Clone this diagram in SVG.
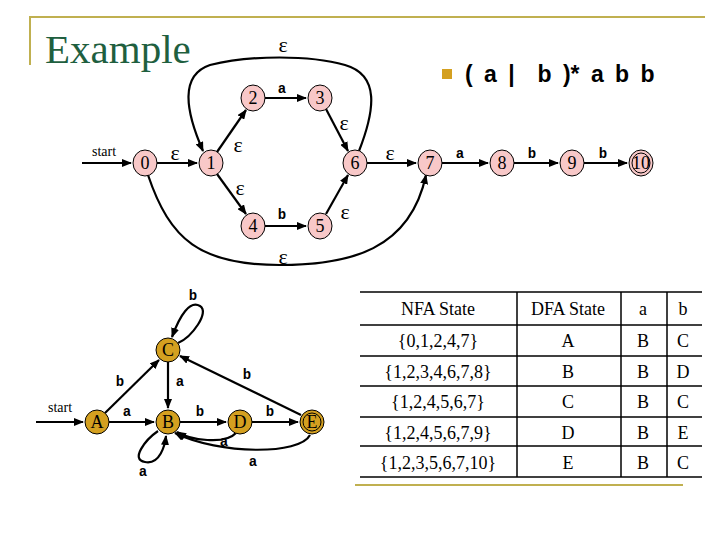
<svg xmlns="http://www.w3.org/2000/svg" width="720" height="540" viewBox="0 0 720 540">
<defs>
<marker id="ar" markerWidth="10" markerHeight="8" refX="9" refY="4" orient="auto" markerUnits="userSpaceOnUse"><path d="M0,0 L10,4 L0,8 z" fill="#000"/></marker>
<style>
.e{fill:none;stroke:#000;stroke-width:2.2;marker-end:url(#ar)}
.n{fill:#f8c8c8;stroke:#000;stroke-width:1}
.d{fill:#d4a020;stroke:#000;stroke-width:1}
.t{font-family:"Liberation Serif",serif;font-size:18px;text-anchor:middle}
.m{font-family:"Liberation Mono",monospace;font-weight:bold;font-size:14px;text-anchor:middle}
.ep{font-family:"Liberation Serif",serif;font-size:22px;text-anchor:middle}
.tb{font-family:"Liberation Serif",serif;font-size:18px;text-anchor:middle}
.l{stroke:#000;stroke-width:1.5}
</style>
</defs>
<rect width="720" height="540" fill="#fff"/>
<path d="M30,65 V17 H705" fill="none" stroke="#c0b050" stroke-width="2"/>
<text x="45" y="63" font-family="Liberation Serif,serif" font-size="41" fill="#1f5f3f">Example</text>
<rect x="442" y="69" width="10" height="10" fill="#d4a020"/>
<text x="465" y="82" font-family="Liberation Sans,sans-serif" font-weight="bold" font-size="23" word-spacing="5" xml:space="preserve">( a |  b )* a b b</text>
<g id="connectors">
<path class="e" d="M82,163 H131"/>
<path class="e" d="M157,163 H197"/>
<path class="e" d="M217,152 L246,110"/>
<path class="e" d="M217,174 L246,214"/>
<path class="e" d="M265,98 H306"/>
<path class="e" d="M326,109 L348,151"/>
<path class="e" d="M265,226 H306"/>
<path class="e" d="M326,214 L348,175"/>
<path class="e" d="M367,163 H416"/>
<path class="e" d="M442,163 H488"/>
<path class="e" d="M514,163 H558"/>
<path class="e" d="M584,163 H627"/>
<path class="e" d="M359,151 C375,110 380,75 345,65 C310,55 250,55 210,65 C180,75 185,110 203,151"/>
<path class="e" d="M148,175 C170,240 200,265 280,265 C350,265 410,250 426,175"/>
<path class="e" d="M36,422 H83"/>
<path class="e" d="M105,413 L159,360"/>
<path class="e" d="M109,422 H154"/>
<path class="e" d="M168,362 V408"/>
<path class="e" d="M180,422 H226"/>
<path class="e" d="M252,422 H298"/>
<path class="e" d="M301,415 L180,356"/>
<path class="e" d="M178,343 C192,337 210,312 200,306 C190,300 180,315 172,337"/>
<path class="e" d="M236,433 C225,445 190,440 177,432"/>
<path class="e" d="M310,435 C300,455 220,455 175,433"/>
<path class="e" d="M158,431 C145,440 130,460 145,462 C160,465 165,445 166,436"/>
</g>
<g id="labels">
<text class="ep" x="175" y="160">ε</text>
<text class="ep" x="238" y="152">ε</text>
<text class="ep" x="240" y="195">ε</text>
<text class="m" x="282" y="93">a</text>
<text class="ep" x="344" y="130">ε</text>
<text class="m" x="282" y="219">b</text>
<text class="ep" x="345" y="219">ε</text>
<text class="ep" x="390" y="160">ε</text>
<text class="m" x="460" y="158">a</text>
<text class="m" x="532" y="158">b</text>
<text class="m" x="603" y="158">b</text>
<text class="ep" x="283" y="52">ε</text>
<text class="ep" x="283" y="264">ε</text>
<text x="104" y="156" font-family="Liberation Serif,serif" font-size="14" text-anchor="middle">start</text>
<text x="60" y="412" font-family="Liberation Serif,serif" font-size="14" text-anchor="middle">start</text>
<text class="m" x="193" y="300">b</text>
<text class="m" x="120" y="386">b</text>
<text class="m" x="180" y="386">a</text>
<text class="m" x="247" y="379">b</text>
<text class="m" x="127" y="416">a</text>
<text class="m" x="200" y="416">b</text>
<text class="m" x="270" y="416">b</text>
<text class="m" x="224" y="446">a</text>
<text class="m" x="253" y="466">a</text>
<text class="m" x="143" y="476">a</text>
</g>
<g id="n0"><ellipse class="n" cx="145" cy="163" rx="12" ry="13"/><text class="t" x="145" y="169">0</text></g>
<g id="n1"><ellipse class="n" cx="211" cy="163" rx="12" ry="13"/><text class="t" x="211" y="169">1</text></g>
<g id="n2"><ellipse class="n" cx="253" cy="98" rx="12" ry="13"/><text class="t" x="253" y="104">2</text></g>
<g id="n3"><ellipse class="n" cx="320" cy="98" rx="12" ry="13"/><text class="t" x="320" y="104">3</text></g>
<g id="n4"><ellipse class="n" cx="253" cy="226" rx="12" ry="13"/><text class="t" x="253" y="232">4</text></g>
<g id="n5"><ellipse class="n" cx="320" cy="226" rx="12" ry="13"/><text class="t" x="320" y="232">5</text></g>
<g id="n6"><ellipse class="n" cx="355" cy="163" rx="12" ry="13"/><text class="t" x="355" y="169">6</text></g>
<g id="n7"><ellipse class="n" cx="430" cy="163" rx="12" ry="13"/><text class="t" x="430" y="169">7</text></g>
<g id="n8"><ellipse class="n" cx="502" cy="163" rx="12" ry="13"/><text class="t" x="502" y="169">8</text></g>
<g id="n9"><ellipse class="n" cx="572" cy="163" rx="12" ry="13"/><text class="t" x="572" y="169">9</text></g>
<g id="n10"><ellipse class="n" cx="641" cy="163" rx="12" ry="13" stroke-width="2.5"/><ellipse cx="641" cy="163" rx="9" ry="10" fill="none" stroke="#000"/><text class="t" x="641" y="169" font-size="16">10</text></g>
<g id="A"><circle class="d" cx="97" cy="422" r="12"/><text class="t" x="97" y="428">A</text></g>
<g id="B"><circle class="d" cx="168" cy="422" r="12"/><text class="t" x="168" y="428">B</text></g>
<g id="C"><circle class="d" cx="168" cy="350" r="12"/><text class="t" x="168" y="356">C</text></g>
<g id="D"><circle class="d" cx="240" cy="422" r="12"/><text class="t" x="240" y="428">D</text></g>
<g id="E"><circle class="d" cx="312" cy="422" r="12" stroke-width="2.5"/><circle cx="312" cy="422" r="9" fill="none" stroke="#000"/><text class="t" x="312" y="428">E</text></g>
<g id="table">
<line class="l" x1="360" y1="292" x2="702" y2="292"/>
<line class="l" x1="360" y1="325" x2="702" y2="325"/>
<line class="l" x1="360" y1="356" x2="702" y2="356"/>
<line class="l" x1="360" y1="386" x2="702" y2="386"/>
<line class="l" x1="360" y1="417" x2="702" y2="417"/>
<line class="l" x1="360" y1="446" x2="702" y2="446"/>
<line class="l" x1="360" y1="477" x2="702" y2="477"/>
<line class="l" x1="517" y1="292" x2="517" y2="477"/>
<line class="l" x1="621" y1="292" x2="621" y2="477"/>
<line class="l" x1="667" y1="292" x2="667" y2="477"/>
<line x1="355" y1="485" x2="683" y2="485" stroke="#c0b050" stroke-width="2"/>
<text class="tb" x="438" y="315">NFA State</text><text class="tb" x="568" y="315">DFA State</text><text class="tb" x="643" y="315">a</text><text class="tb" x="683" y="315">b</text>
<text class="tb" x="438" y="347">{0,1,2,4,7}</text><text class="tb" x="568" y="347">A</text><text class="tb" x="643" y="347">B</text><text class="tb" x="683" y="347">C</text>
<text class="tb" x="438" y="378">{1,2,3,4,6,7,8}</text><text class="tb" x="568" y="378">B</text><text class="tb" x="643" y="378">B</text><text class="tb" x="683" y="378">D</text>
<text class="tb" x="438" y="408">{1,2,4,5,6,7}</text><text class="tb" x="568" y="408">C</text><text class="tb" x="643" y="408">B</text><text class="tb" x="683" y="408">C</text>
<text class="tb" x="438" y="439">{1,2,4,5,6,7,9}</text><text class="tb" x="568" y="439">D</text><text class="tb" x="643" y="439">B</text><text class="tb" x="683" y="439">E</text>
<text class="tb" x="438" y="469">{1,2,3,5,6,7,10}</text><text class="tb" x="568" y="469">E</text><text class="tb" x="643" y="469">B</text><text class="tb" x="683" y="469">C</text>
</g>
</svg>
